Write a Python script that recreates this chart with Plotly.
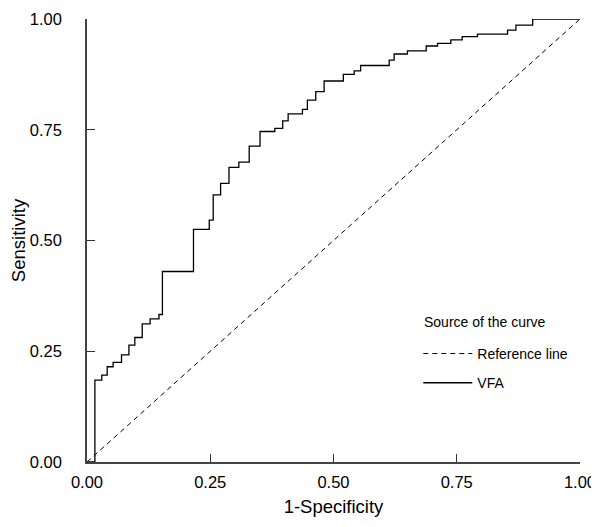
import plotly.graph_objects as go

# ROC curve vertices (1-Specificity, Sensitivity), step shape
fpr = [0, 0.016, 0.030, 0.041, 0.053, 0.070, 0.085, 0.097, 0.112, 0.128,
       0.146, 0.153, 0.216, 0.248, 0.256, 0.271, 0.288, 0.308, 0.329, 0.351,
       0.381, 0.397, 0.408, 0.437, 0.447, 0.464, 0.481, 0.520, 0.542, 0.555,
       0.613, 0.623, 0.650, 0.688, 0.711, 0.738, 0.761, 0.792, 0.853, 0.870,
       0.904, 1.0]
tpr = [0, 0.185, 0.196, 0.215, 0.225, 0.242, 0.264, 0.281, 0.312, 0.323,
       0.333, 0.430, 0.525, 0.546, 0.603, 0.629, 0.665, 0.677, 0.713, 0.746,
       0.753, 0.770, 0.786, 0.796, 0.817, 0.836, 0.860, 0.875, 0.883, 0.895,
       0.907, 0.921, 0.928, 0.939, 0.945, 0.953, 0.960, 0.966, 0.975, 0.986,
       1.0, 1.0]
ref_x = [0, 1]
ref_y = [0, 1]
tick_vals = [0, 0.25, 0.5, 0.75, 1.0]
tick_text = ["0.00", "0.25", "0.50", "0.75", "1.00"]
legend_title = "Source of the curve"

FONT = "Liberation Sans, Arial, sans-serif"

fig = go.Figure()
fig.add_trace(go.Scatter(x=ref_x, y=ref_y, mode="lines", name="Reference line",
                         legendgroup="a",
                         line=dict(color="black", width=1, dash="5px,4px")))
fig.add_trace(go.Scatter(x=fpr, y=tpr, mode="lines", name="VFA",
                         legendgroup="b",
                         line=dict(color="black", width=1.3, shape="hv")))

axis_common = dict(range=[0, 1], tickvals=tick_vals, ticktext=tick_text,
                   ticks="inside", ticklen=8, tickcolor="#333", tickwidth=1,
                   showline=True, linecolor="#444", linewidth=1.5,
                   showgrid=False, zeroline=False, automargin=False,
                   tickfont=dict(family=FONT, size=16.5, color="black"))

# the page body adds an 8px offset, so the figure is sized 8px smaller
fig.update_layout(
    width=591, height=519,
    margin=dict(l=79, r=19, t=11, b=65),
    paper_bgcolor="white", plot_bgcolor="white",
    font=dict(family=FONT, color="black"),
    xaxis=dict(**axis_common, ticklabelstandoff=4,
               title=dict(text="1-Specificity", font=dict(family=FONT, size=18.5), standoff=11)),
    yaxis=dict(**axis_common, ticklabelstandoff=20,
               title=dict(text="Sensitivity", font=dict(family=FONT, size=18.5), standoff=5)),
    legend=dict(x=0.672, y=0.28, xanchor="left", yanchor="top",
                bgcolor="rgba(0,0,0,0)", font=dict(family=FONT, size=14),
                tracegroupgap=8, itemwidth=49),
    showlegend=True,
    annotations=[dict(text=legend_title, xref="paper", yref="paper",
                      x=0.6795, y=0.316, xanchor="left", yanchor="middle",
                      showarrow=False, font=dict(family=FONT, size=14))],
)

fig.write_html("out.html")
